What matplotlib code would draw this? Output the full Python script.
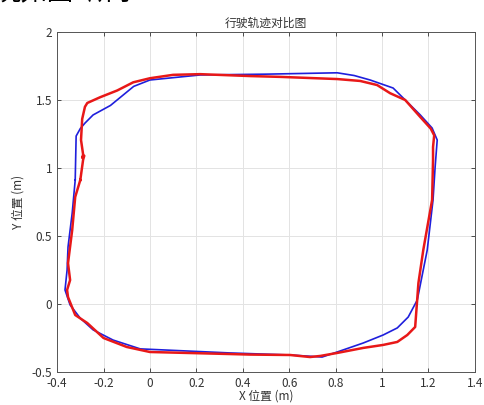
import matplotlib
matplotlib.use("Agg")
import matplotlib.pyplot as plt

plt.rcParams['font.family'] = ['Noto Sans CJK SC', 'DejaVu Sans']

# reference trajectory (blue)
ref_x = [-0.322, -0.318, -0.3, -0.28, -0.245, -0.17, -0.07, 0.0, 0.216, 0.5, 0.807, 0.88,
         0.949, 1.048, 1.109, 1.165, 1.216, 1.238, 1.229, 1.22, 1.195, 1.152, 1.113, 1.066,
         1.005, 0.919, 0.807, 0.742, 0.604, 0.346, -0.042, -0.159, -0.245, -0.301,
         -0.344, -0.366, -0.357, -0.353, -0.335, -0.322]
ref_y = [0.912, 1.235, 1.29, 1.33, 1.39, 1.46, 1.6, 1.647, 1.684, 1.69, 1.70, 1.68,
         1.647, 1.588, 1.485, 1.39, 1.294, 1.206, 1.007, 0.765, 0.397, 0.029, -0.096, -0.176,
         -0.228, -0.287, -0.353, -0.39, -0.375, -0.36, -0.33, -0.265, -0.19, -0.103,
         -0.007, 0.103, 0.25, 0.419, 0.669, 0.912]

# actual trajectory (red)
act_x = [-0.30, -0.288, -0.283, -0.292, -0.288, -0.297, -0.292, -0.28, -0.27, -0.215,
         -0.141, -0.072, 0.0, 0.1, 0.216, 0.432, 0.561, 0.807, 0.906, 0.979, 1.035,
         1.1, 1.165, 1.21, 1.225, 1.22, 1.22, 1.216, 1.178, 1.157, 1.143, 1.109,
         1.066, 1.005, 0.919, 0.807, 0.734, 0.69, 0.604, 0.432, 0.346, 0.0, -0.1,
         -0.2, -0.27, -0.322, -0.353, -0.357, -0.344, -0.353, -0.335, -0.322, -0.30]
act_y = [0.912, 1.06, 1.09, 1.075, 1.10, 1.206, 1.36, 1.45, 1.478, 1.52,
         1.57, 1.63, 1.66, 1.685, 1.69, 1.676, 1.67, 1.654, 1.64, 1.61, 1.55,
         1.5, 1.375, 1.29, 1.24, 1.154, 1.06, 0.765, 0.397, 0.154, -0.169, -0.228,
         -0.279, -0.301, -0.323, -0.36, -0.382, -0.39, -0.375, -0.372, -0.368, -0.353, -0.316,
         -0.25, -0.14, -0.081, 0.051, 0.103, 0.176, 0.30, 0.544, 0.787, 0.912]

fig = plt.figure(figsize=(4.84, 4.05), dpi=100)
ax = fig.add_axes([0.118, 0.0815, 0.863, 0.8395])

ax.plot(ref_x, ref_y, color='#1f1fdc', lw=1.2)
ax.plot(act_x, act_y, color='#e81818', lw=1.8)

ax.set_xlim(-0.4, 1.4)
ax.set_ylim(-0.5, 2)
ax.set_xticks([-0.4, -0.2, 0, 0.2, 0.4, 0.6, 0.8, 1, 1.2, 1.4])
ax.set_xticklabels(['-0.4', '-0.2', '0', '0.2', '0.4', '0.6', '0.8', '1', '1.2', '1.4'])
ax.set_yticks([-0.5, 0, 0.5, 1, 1.5, 2])
ax.set_yticklabels(['-0.5', '0', '0.5', '1', '1.5', '2'])
ax.grid(color='#e3e3e3', lw=0.7)
ax.tick_params(direction='in', top=True, right=True, labelsize=8.5,
               colors='#333333', length=3, width=0.6)
for s in ax.spines.values():
    s.set_color('#555555')
    s.set_linewidth(0.7)

ax.set_title('行驶轨迹对比图', fontsize=8.5, color='#333333', pad=4)
ax.set_xlabel('X 位置 (m)', fontsize=8.5, color='#333333', labelpad=0)
ax.set_ylabel('Y 位置 (m)', fontsize=8.5, color='#333333', labelpad=5)

# leftover document text cut off at the top
fig.text(-0.01, 1.02, '况如图9所示：', fontsize=19, color='black', va='center', ha='left')

fig.savefig('out.png', dpi=100)
